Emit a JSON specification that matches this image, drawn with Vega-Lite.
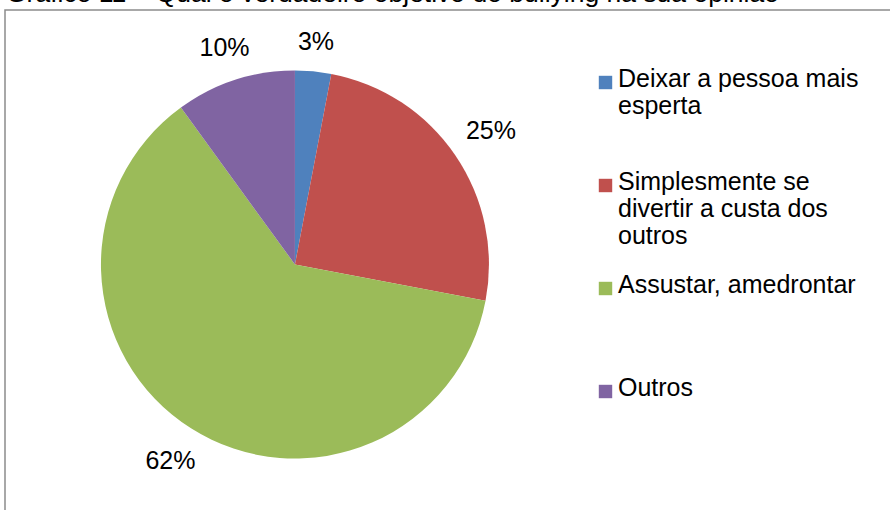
{
  "$schema": "https://vega.github.io/schema/vega-lite/v6.json",
  "autosize": "none",
  "width": 887,
  "height": 502,
  "padding": {"left": 5, "top": 10, "right": -2, "bottom": -2},
  "background": "white",
  "config": {
    "view": {"stroke": "#8c8c8c", "strokeWidth": 1.5},
    "font": "Liberation Sans"
  },
  "title": {
    "text": "Gráfico 11 – Qual o verdadeiro objetivo do bullying na sua opinião",
    "anchor": "start",
    "frame": "group",
    "fontSize": 26.5,
    "font": "Liberation Sans",
    "fontWeight": "normal",
    "baseline": "alphabetic",
    "offset": -18,
    "dx": 1,
    "color": "black"
  },
  "data": {
    "values": [
      {"categoria": "Deixar a pessoa mais esperta", "valor": 3, "rotulo": "3%", "ordem": 1},
      {"categoria": "Simplesmente se divertir a custa dos outros", "valor": 25, "rotulo": "25%", "ordem": 2},
      {"categoria": "Assustar, amedrontar", "valor": 62, "rotulo": "62%", "ordem": 3},
      {"categoria": "Outros", "valor": 10, "rotulo": "10%", "ordem": 4}
    ]
  },
  "encoding": {
    "theta": {"field": "valor", "type": "quantitative", "stack": true},
    "order": {"field": "ordem", "type": "quantitative"},
    "x": {"datum": 0.3269, "type": "quantitative", "scale": {"domain": [0, 1]}, "axis": null},
    "y": {"datum": 0.507, "type": "quantitative", "scale": {"domain": [0, 1], "reverse": true}, "axis": null}
  },
  "layer": [
    {
      "mark": {"type": "arc", "outerRadius": 194},
      "encoding": {
        "color": {
          "field": "categoria",
          "type": "nominal",
          "scale": {
            "domain": ["Deixar a pessoa mais esperta", "Simplesmente se divertir a custa dos outros", "Assustar, amedrontar", "Outros"],
            "range": ["#4F81BD", "#C0504D", "#9BBB59", "#8064A2"]
          },
          "legend": {
            "title": null,
            "orient": "none",
            "legendX": 588,
            "legendY": 60,
            "padding": 0,
            "symbolType": "square",
            "symbolSize": 180,
            "symbolStrokeWidth": 0,
            "labelFont": "Liberation Sans",
            "labelFontSize": 25,
            "labelColor": "black",
            "labelOffset": 0,
            "labelLimit": 400,
            "labelBaseline": "top",
            "labelLineHeight": 31,
            "gridAlign": "all",
            "rowPadding": 23,
            "labelExpr": "datum.label == 'Deixar a pessoa mais esperta' ? ['Deixar a pessoa mais', 'esperta'] : datum.label == 'Simplesmente se divertir a custa dos outros' ? ['Simplesmente se', 'divertir a custa dos', 'outros'] : datum.label",
            "encode": {"labels": {"update": {"dy": {"value": -16}}}}
          }
        }
      }
    },
    {
      "mark": {
        "type": "text",
        "radius": {"expr": "212 + 24*abs(sin(PI*(datum.valor_start+datum.valor_end)/100)) + 9*abs(cos(PI*(datum.valor_start+datum.valor_end)/100))"},
        "fontSize": 25,
        "font": "Liberation Sans",
        "color": "black"
      },
      "encoding": {
        "text": {"field": "rotulo", "type": "nominal"}
      }
    }
  ]
}
